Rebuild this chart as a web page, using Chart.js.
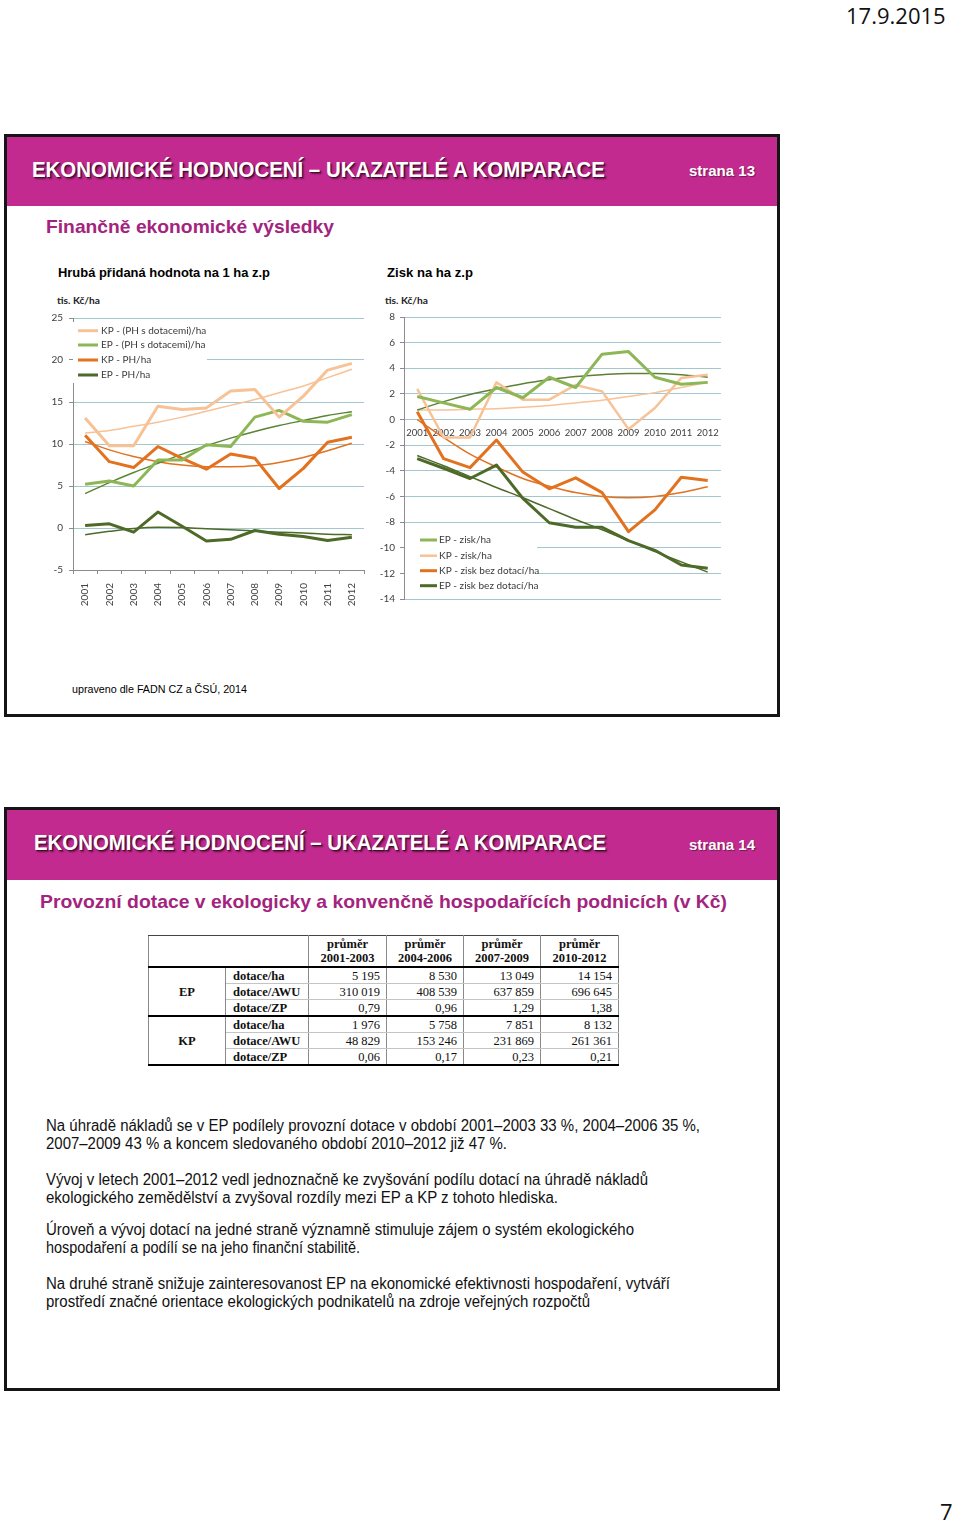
<!DOCTYPE html>
<html lang="cs">
<head>
<meta charset="utf-8">
<title>Ekonomické hodnocení</title>
<script src="https://cdn.jsdelivr.net/npm/chart.js@4.4.1/dist/chart.umd.min.js"></script>
<style>
html,body{margin:0;padding:0;background:#fff;}
#page{position:relative;width:960px;height:1526px;font-family:"Liberation Sans",Arial,sans-serif;color:#000;}
.t{position:absolute;white-space:nowrap;display:inline-block;transform-origin:0 50%;}
.slide{position:absolute;border:3px solid #151515;box-sizing:border-box;}
.band{position:absolute;background:#C22A8F;}
.head{color:#fff;font-family:"Liberation Sans Narrow","Liberation Sans",sans-serif;font-weight:bold;font-size:22px;line-height:22px;text-shadow:1px 1px 0 #4a0b33,2px 2px 2px rgba(0,0,0,.5);}
.strana{color:#fff;font-weight:bold;font-size:15px;line-height:15px;text-shadow:1px 1px 1px rgba(0,0,0,.4);}
.sub{color:#A3247E;font-weight:bold;font-size:19px;line-height:19px;}
.ctitle{font-weight:bold;font-size:13px;line-height:13px;}
.unit{font-family:Lato,sans-serif;font-weight:bold;font-size:10px;line-height:10px;color:#222;}
.para{font-size:16px;line-height:16px;color:#111;}
.cal{font-family:"Open Sans",Lato,sans-serif;font-size:22px;line-height:26px;color:#111;}
canvas{position:absolute;}
#tbl{position:absolute;left:148px;top:935px;border-collapse:collapse;font-family:"Liberation Serif",serif;font-size:12.5px;table-layout:fixed;width:470px;color:#111;}
#tbl td,#tbl th{padding:0;height:15px;line-height:14px;border-left:1px solid #8a8a8a;border-right:1px solid #8a8a8a;border-bottom:1px solid #c4c4c4;overflow:hidden;white-space:nowrap;}
#tbl tr.hd th{height:30px;font-weight:bold;text-align:center;border-top:1px solid #444;border-bottom:2.5px solid #000;}
#tbl td.num{text-align:right;padding-right:6px;}
#tbl td.rn{font-weight:bold;padding-left:7px;}
#tbl td.grp{font-weight:bold;text-align:center;border-bottom:2.5px solid #000;}
#tbl tr.last td{border-bottom:2.5px solid #000;}
</style>
</head>
<body>
<div id="page">

<div class="t cal" style="left:846px;top:2px">17.9.2015</div>

<div class="slide" style="left:4px;top:134px;width:776px;height:583px"></div>
<div class="band" style="left:7px;top:137px;width:770px;height:69px"></div>
<div class="t head" style="left:32px;top:159px" data-w="573">EKONOMICKÉ HODNOCENÍ – UKAZATELÉ A KOMPARACE</div>
<div class="t strana" style="left:689px;top:163px" data-w="66">strana 13</div>
<div class="t sub" style="left:46px;top:217px" data-w="288">Finančně ekonomické výsledky</div>
<div class="t ctitle" style="left:58px;top:266px" data-w="212">Hrubá přidaná hodnota na 1 ha z.p</div>
<div class="t ctitle" style="left:387px;top:266px" data-w="86">Zisk na ha z.p</div>
<div class="t unit" style="left:57px;top:295px" data-w="43">tis. Kč/ha</div>
<div class="t unit" style="left:385px;top:295px" data-w="43">tis. Kč/ha</div>
<canvas id="hph" width="334" height="304" style="left:40px;top:306px"></canvas>
<canvas id="zisk" width="357" height="304" style="left:370px;top:306px"></canvas>
<div class="t" style="left:72px;top:684px;font-size:11px;line-height:11px" data-w="175">upraveno dle FADN CZ a ČSÚ, 2014</div>

<div class="slide" style="left:4px;top:807px;width:776px;height:584px"></div>
<div class="band" style="left:7px;top:810px;width:770px;height:70px"></div>
<div class="t head" style="left:34px;top:832px" data-w="572">EKONOMICKÉ HODNOCENÍ – UKAZATELÉ A KOMPARACE</div>
<div class="t strana" style="left:689px;top:837px" data-w="66">strana 14</div>
<div class="t sub" style="left:40px;top:892px" data-w="687">Provozní dotace v ekologicky a konvenčně hospodařících podnicích (v Kč)</div>

<table id="tbl"></table>
<div id="paras"></div>

<div class="t cal" style="left:940px;top:1498px">7</div>
</div>

<script>
// roky a hodnoty odečtené z grafů (tis. Kč/ha)
const years = ["2001","2002","2003","2004","2005","2006","2007","2008","2009","2010","2011","2012"];

// Hrubá přidaná hodnota
const kpPhDot      = [13.1, 9.8, 9.8, 14.5, 14.1, 14.3, 16.3, 16.5, 13.2, 15.7, 18.8, 19.6];
const kpPhDotTrend = [11.3, 11.6, 12.1, 12.6, 13.2, 13.9, 14.6, 15.3, 16.1, 16.9, 17.9, 18.9];
const epPhDot      = [5.2, 5.6, 5.0, 8.1, 8.1, 9.9, 9.7, 13.2, 14.0, 12.7, 12.6, 13.5];
const epPhDotTrend = [4.1, 5.4, 6.6, 7.7, 8.8, 9.8, 10.7, 11.5, 12.2, 12.8, 13.4, 13.85];
const kpPh         = [11.05, 7.9, 7.2, 9.7, 8.3, 7.0, 8.8, 8.3, 4.7, 7.1, 10.2, 10.8];
const kpPhTrend    = [10.3, 9.3, 8.5, 7.9, 7.5, 7.3, 7.3, 7.4, 7.8, 8.4, 9.2, 10.1];
const epPh         = [0.3, 0.5, -0.5, 1.9, 0.2, -1.55, -1.35, -0.3, -0.75, -1.0, -1.5, -1.1];
const epPhTrend    = [-0.8, -0.4, -0.05, 0.1, 0.05, -0.1, -0.2, -0.35, -0.5, -0.6, -0.75, -0.8];

// Zisk
const epZisk         = [1.8, 1.3, 0.8, 2.5, 1.7, 3.3, 2.5, 5.1, 5.3, 3.3, 2.75, 2.9];
const epZiskTrend    = [0.75, 1.4, 1.95, 2.4, 2.8, 3.1, 3.35, 3.5, 3.6, 3.6, 3.5, 3.3];
const kpZisk         = [2.4, -1.4, -1.4, 2.9, 1.55, 1.55, 2.7, 2.2, -0.75, 0.9, 3.25, 3.5];
const kpZiskTrend    = [0.75, 0.75, 0.8, 0.85, 0.95, 1.1, 1.3, 1.5, 1.8, 2.1, 2.5, 2.9];
const kpZiskBez      = [0.6, -3.05, -3.75, -1.6, -4.1, -5.4, -4.55, -5.7, -8.75, -7.05, -4.5, -4.75];
const kpZiskBezTrend = [0.0, -1.4, -2.7, -3.7, -4.6, -5.2, -5.7, -6.0, -6.1, -6.0, -5.7, -5.25];
const epZiskBez      = [-3.05, -3.8, -4.6, -3.55, -6.15, -8.05, -8.4, -8.4, -9.45, -10.2, -11.35, -11.6];
const epZiskBezTrend = [-2.8, -3.6, -4.45, -5.3, -6.1, -6.95, -7.8, -8.6, -9.45, -10.3, -11.1, -11.9];

// tabulka dotací
const periods  = ["2001-2003","2004-2006","2007-2009","2010-2012"];
const rowNames = ["dotace/ha","dotace/AWU","dotace/ZP"];
const epHa  = ["5 195","8 530","13 049","14 154"];
const epAwu = ["310 019","408 539","637 859","696 645"];
const epZp  = ["0,79","0,96","1,29","1,38"];
const kpHa  = ["1 976","5 758","7 851","8 132"];
const kpAwu = ["48 829","153 246","231 869","261 361"];
const kpZp  = ["0,06","0,17","0,23","0,21"];

const paras = [
["Na úhradě nákladů se v EP podílely provozní dotace v období 2001–2003 33 %, 2004–2006 35 %,", 1126, 654],
["2007–2009 43 % a koncem sledovaného období 2010–2012 již 47 %.", 1144, 461],
["Vývoj v letech 2001–2012 vedl jednoznačně ke zvyšování podílu dotací na úhradě nákladů", 1180, 602],
["ekologického zemědělství a zvyšoval rozdíly mezi EP a KP z tohoto hlediska.", 1198, 512],
["Úroveň a vývoj dotací na jedné straně významně stimuluje zájem o systém ekologického", 1230, 588],
["hospodaření a podílí se na jeho finanční stabilitě.", 1248, 314],
["Na druhé straně snižuje zainteresovanost EP na ekonomické efektivnosti hospodaření, vytváří", 1284, 624],
["prostředí značné orientace ekologických podnikatelů na zdroje veřejných rozpočtů", 1302, 544]
];

const C_PEACH = "#F7C296";
const C_GREEN = "#8DB757";
const C_ORANGE = "#E2721F";
const C_DARK = "#4E6A28";

function line(label, data, color, width, trend){
return {
label: label,
data: data,
borderColor: color,
backgroundColor: color,
borderWidth: width,
pointRadius: 0,
fill: false,
tension: trend ? 0.4 : 0,
cubicInterpolationMode: trend ? "monotone" : "default",
borderJoinStyle: "round",
trend: !!trend
};
}

// legenda v bílém rámečku uvnitř grafu
const boxLegend = {
id: "boxLegend",
beforeDatasetsDraw(chart, args, o){
const ctx = chart.ctx;
ctx.save();
ctx.fillStyle = "#fff";
ctx.fillRect(o.box[0], o.box[1], o.box[2], o.box[3]);
const items = chart.data.datasets.filter(d => !d.trend);
items.forEach((d, i) => {
const yy = o.rows[i];
ctx.strokeStyle = d.borderColor;
ctx.lineWidth = d.borderWidth;
ctx.beginPath();
ctx.moveTo(o.lx[0], yy);
ctx.lineTo(o.lx[1], yy);
ctx.stroke();
ctx.fillStyle = "#3a3a3a";
ctx.font = "10px Lato, sans-serif";
ctx.textBaseline = "middle";
ctx.fillText(d.label, o.tx, yy);
});
ctx.restore();
}
};

Chart.defaults.font.family = "Lato, 'Liberation Sans', sans-serif";
Chart.defaults.font.size = 10;
Chart.defaults.color = "#404040";

const gridColor = "#A3C7CF";
const axisColor = "#8c8c8c";

new Chart(document.getElementById("hph"), {
type: "line",
data: {
labels: years,
datasets: [
line("KP - (PH s dotacemi)/ha", kpPhDot, C_PEACH, 3),
line("EP - (PH s dotacemi)/ha", epPhDot, C_GREEN, 3),
line("KP - PH/ha", kpPh, C_ORANGE, 3),
line("EP - PH/ha", epPh, C_DARK, 3),
line("trend", kpPhDotTrend, C_PEACH, 1.5, true),
line("trend", epPhDotTrend, "#5A8633", 1.5, true),
line("trend", kpPhTrend, C_ORANGE, 1.5, true),
line("trend", epPhTrend, C_DARK, 1.5, true)
]
},
options: {
responsive: false,
animation: false,
layout: {padding: {top: 12, right: 10, bottom: 0, left: 0}},
plugins: {
legend: {display: false},
tooltip: {enabled: false},
boxLegend: {box: [33, 16, 134, 61], rows: [24.7, 39, 54, 69], lx: [38, 58], tx: 61}
},
scales: {
x: {
offset: true,
grid: {offset: true, drawOnChartArea: false, tickLength: 4, color: axisColor},
border: {color: axisColor},
ticks: {autoSkip: false, minRotation: 90, maxRotation: 90, padding: 9},
afterFit(s){ s.height = 40; }
},
y: {
min: -5, max: 25,
ticks: {stepSize: 5, padding: 6},
grid: {color: gridColor, tickColor: axisColor, tickLength: 4},
border: {color: axisColor},
afterFit(s){ s.width = 33; }
}
}
},
plugins: [boxLegend]
});

new Chart(document.getElementById("zisk"), {
type: "line",
data: {
labels: years,
datasets: [
line("EP - zisk/ha", epZisk, C_GREEN, 3),
line("KP - zisk/ha", kpZisk, C_PEACH, 2.5),
line("KP - zisk bez dotací/ha", kpZiskBez, C_ORANGE, 3),
line("EP - zisk bez dotací/ha", epZiskBez, C_DARK, 3),
line("trend", epZiskTrend, "#5E7F35", 1.5, true),
line("trend", kpZiskTrend, C_PEACH, 1.5, true),
line("trend", kpZiskBezTrend, C_ORANGE, 1.5, true),
line("trend", epZiskBezTrend, C_DARK, 1.5, true)
]
},
options: {
responsive: false,
animation: false,
layout: {padding: {top: 9, right: 6, bottom: 8, left: 0}},
plugins: {
legend: {display: false},
tooltip: {enabled: false},
boxLegend: {box: [35, 225, 132, 63], rows: [234, 249.7, 264.7, 279.7], lx: [50, 67], tx: 69}
},
scales: {
x: {
position: {y: 0},
offset: true,
grid: {display: false, drawTicks: false},
border: {display: false},
ticks: {autoSkip: false, maxRotation: 0, padding: 8, font: {size: 9.5}}
},
y: {
min: -14, max: 8,
ticks: {stepSize: 2, padding: 5},
grid: {color: gridColor, tickColor: axisColor, tickLength: 4},
border: {color: axisColor},
afterFit(s){ s.width = 34; }
}
}
},
plugins: [boxLegend]
});

// tabulka
function buildTable(){
const tbl = document.getElementById("tbl");
let html = `<colgroup><col style="width:77px"><col style="width:83px"><col style="width:78px"><col style="width:77px"><col style="width:77px"><col style="width:78px"></colgroup>`;
html += `<tr class="hd"><th colspan="2"></th>` + periods.map(p => `<th>průměr<br>${p}</th>`).join("") + `</tr>`;
const groups = [["EP", [epHa, epAwu, epZp]], ["KP", [kpHa, kpAwu, kpZp]]];
groups.forEach(g => {
g[1].forEach((vals, i) => {
html += `<tr class="${i === 2 ? "last" : ""}">`;
if(i === 0) html += `<td class="grp" rowspan="3">${g[0]}</td>`;
html += `<td class="rn">${rowNames[i]}</td>`;
html += vals.map(v => `<td class="num">${v}</td>`).join("");
html += `</tr>`;
});
});
tbl.innerHTML = html;
}
buildTable();

const pc = document.getElementById("paras");
paras.forEach(p => {
const d = document.createElement("div");
d.className = "t para";
d.style.left = "46px";
d.style.top = (p[1] - 8) + "px";
d.dataset.w = p[2];
d.textContent = p[0];
pc.appendChild(d);
});

// přizpůsobení šířky textů
function fitAll(){
document.querySelectorAll("[data-w]").forEach(el => {
el.style.transform = "none";
const w = el.getBoundingClientRect().width;
el.style.transform = `scaleX(${el.dataset.w / w})`;
});
}
fitAll();
</script>
</body>
</html>
